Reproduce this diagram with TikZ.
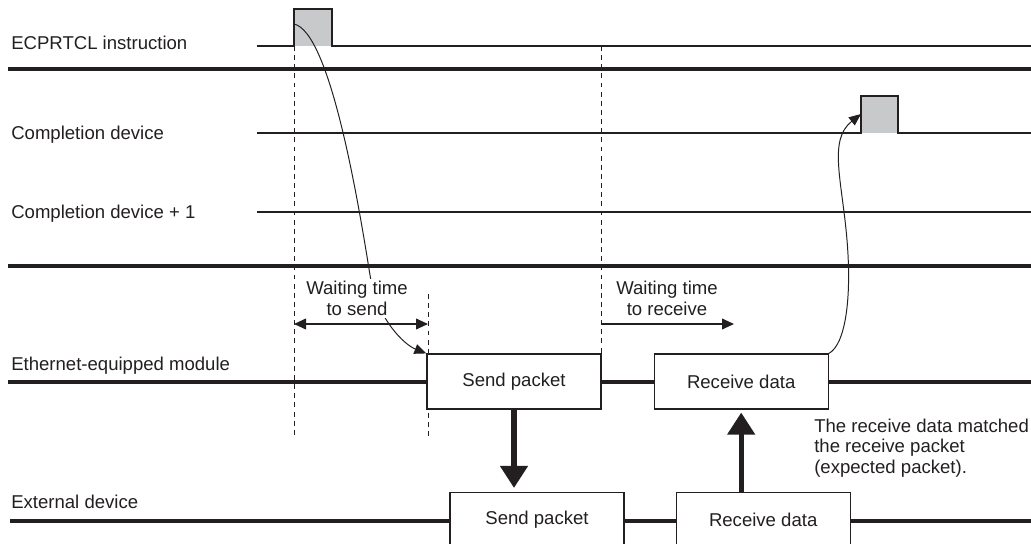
\documentclass[tikz,border=0pt]{standalone}
\usepackage{fontspec}
\setmainfont{Liberation Sans}
\usepackage{xcolor}
\usetikzlibrary{arrows.meta, positioning}

\definecolor{ink}{RGB}{35,31,32}
\definecolor{pulsefill}{RGB}{200,201,203}

\begin{document}
\begin{tikzpicture}[x=0.025cm, y=-0.025cm,
    every node/.style={font=\fontsize{13.2}{15}\selectfont, text=ink},
    sig/.style={draw=ink, line width=0.9pt},
    bus/.style={draw=ink, line width=2.4pt},
    sep/.style={draw=ink, line width=2.3pt},
    guide/.style={draw=ink, line width=0.6pt, dash pattern=on 3.5pt off 3pt},
    packet/.style={draw=ink, fill=white, line width=0.8pt, minimum width=4.35cm, minimum height=1.375cm, inner sep=0pt},
    lbl/.style={anchor=base west, inner sep=0pt},
    span/.style={{Triangle[length=0.3cm, width=0.27cm]}-{Triangle[length=0.3cm, width=0.27cm]}, draw=ink, line width=0.9pt},
    hop/.style={-{Triangle[length=0.3cm, width=0.25cm]}, draw=ink, line width=0.7pt},
    flow/.style={-{Triangle[length=0.55cm, width=0.67cm]}, draw=ink, line width=3.6pt}
]
    \useasboundingbox (0,0) rectangle (1031,544);
    \clip (0,0) rectangle (1031,544);

    % Row labels
    \foreach \n/\y/\t in {ecp/50/ECPRTCL instruction, cdev/140/Completion device, cdevp/219/Completion device + 1, eth/370/Ethernet-equipped module, ext/508/External device} {
        \node[lbl] (\n) at (11,\y) {\t};
    }

    % Separators
    \draw[sep] (8,69) -- (1031,69);
    \draw[sep] (8,266) -- (1031,266);

    % Device signals
    \draw[sig, fill=pulsefill] (257,46) -- (294,46) -- (294,9) -- (332,9) -- (332,46) -- (1031,46);
    \draw[sig, fill=pulsefill] (257,133) -- (861,133) -- (861,96) -- (898,96) -- (898,133) -- (1031,133);
    \draw[sig] (257,212) -- (1031,212);

    % Timing guides
    \draw[guide] (294,46) -- (294,435);
    \draw[guide] (601,46) -- (601,354);
    \draw[guide] (428,294) -- (428,437);

    % Module and external device
    \draw[bus] (8,382) -- (1031,382);
    \draw[bus] (10,521) -- (1031,521);
    \node[packet] (sendE) at (514,381.5) {Send packet};
    \node[packet, right=1.3cm of sendE] (rcvE) {Receive data};
    \node[packet] (sendX) at (537,520) {Send packet};
    \node[packet, right=1.275cm of sendX] (rcvX) {Receive data};

    % Transfers
    \draw[flow, shorten >=0.1cm] (sendE.south) -- (sendE.south |- sendX.north);
    \draw[flow, shorten >=0.075cm] (rcvE.south |- rcvX.north) -- (rcvE.south);

    % Waiting times
    \coordinate (sendStart) at (294,324);
    \coordinate (sendGo) at (428,324);
    \coordinate (rcvStart) at (601,324);
    \coordinate (rcvLimit) at (734,324);
    \draw[span] (sendStart) -- (sendGo);
    \draw[span, -{Triangle[length=0.3cm, width=0.27cm]}] (rcvStart) -- (rcvLimit);

    % Trigger and completion
    \coordinate (ecpRise) at (294,24);
    \coordinate (cdevRise) at (861,114);
    \draw[hop] (ecpRise) .. controls (330,32) and (358,200) .. (370,275) .. controls (377,320) and (405,345) .. (sendE.north west);
    \draw[hop] (rcvE.north east) .. controls (845,345) and (852,300) .. (847,240) .. controls (842,180) and (828,140) .. (cdevRise);

    % Annotations
    \node[anchor=north, align=center, fill=white, inner sep=0.05cm] (waitSend) at (357,279) {Waiting time\\to send};
    \node[anchor=north, align=center, inner sep=0.05cm] (waitRcv) at (667,279) {Waiting time\\to receive};
    \node[anchor=north west, align=left, inner sep=0pt, font=\fontsize{13.2}{14.6}\selectfont] (match) at (814,418.5) {The receive data matched\\the receive packet\\(expected packet).};
\end{tikzpicture}
\end{document}
